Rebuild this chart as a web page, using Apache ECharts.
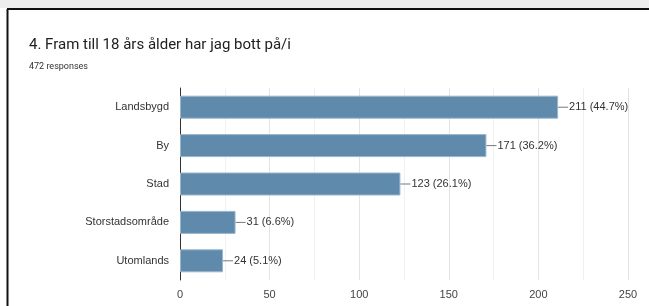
<!DOCTYPE html>
<html>
<head>
<meta charset="utf-8">
<script src="https://cdn.jsdelivr.net/npm/echarts@6/dist/echarts.min.js"></script>
<style>
    html, body { margin: 0; padding: 0; background: #fff; }
    #chart { width: 649px; height: 306px; }
</style>
</head>
<body>
<div id="chart"></div>
<script>
var categories = ['Landsbygd', 'By', 'Stad', 'Storstadsområde', 'Utomlands'];
var counts = [211, 171, 123, 31, 24];
var percents = ['44.7', '36.2', '26.1', '6.6', '5.1'];
var xTicks = [0, 50, 100, 150, 200, 250];

var myChart = echarts.init(document.getElementById('chart'));

var option = {
    backgroundColor: '#fff',
    animation: false,
    title: [{
        text: '4. Fram till 18 års ålder har jag bott på/i',
        left: 24,
        top: 33,
        textStyle: {
            fontFamily: 'Roboto, Arial, sans-serif',
            fontSize: 15,
            fontWeight: 400,
            color: '#202124'
        }
    }, {
        text: '472 responses',
        left: 24,
        top: 57,
        textStyle: {
            fontFamily: 'Roboto, Arial, sans-serif',
            fontSize: 9,
            fontWeight: 400,
            color: '#333'
        }
    }],
    // ramen runt bilden
    graphic: [{
        type: 'rect',
        shape: { x: 0, y: 0, width: 649, height: 8 },
        style: { fill: '#eeeeee' }
    }, {
        type: 'line',
        shape: { x1: 7, y1: 9, x2: 649, y2: 9 },
        style: { stroke: '#111', lineWidth: 2 }
    }, {
        type: 'line',
        shape: { x1: 7.5, y1: 9, x2: 7.5, y2: 306 },
        style: { stroke: '#111', lineWidth: 2 }
    }],
    grid: {
        left: 180,
        right: 21,
        top: 88,
        bottom: 26,
        containLabel: false
    },
    xAxis: {
        type: 'value',
        min: 0,
        max: xTicks[xTicks.length - 1],
        interval: 50,
        axisLine: { show: false },
        axisTick: { show: false },
        axisLabel: {
            color: '#444',
            fontFamily: 'Arial, Liberation Sans, sans-serif',
            fontSize: 11,
            margin: 9
        },
        splitLine: { lineStyle: { color: '#e3e3e3' } },
        minorTick: { show: false, splitNumber: 2 },
        minorSplitLine: { show: true, lineStyle: { color: '#f1f1f1' } }
    },
    yAxis: {
        type: 'category',
        data: categories,
        inverse: true,
        axisLine: { lineStyle: { color: '#333', width: 1 } },
        axisTick: { show: false },
        axisLabel: {
            color: '#333',
            fontFamily: 'Arial, Liberation Sans, sans-serif',
            fontSize: 11,
            margin: 11
        }
    },
    series: [{
        type: 'bar',
        data: counts,
        barWidth: 23,
        itemStyle: {
            color: '#5f8aac',
            borderColor: '#9ab6cc',
            borderWidth: 1
        },
        label: {
            show: true,
            position: 'right',
            distance: 0,
            fontFamily: 'Arial, Liberation Sans, sans-serif',
            fontSize: 11,
            color: '#333',
            formatter: function (p) {
                return '{l|}{t|' + counts[p.dataIndex] + ' (' + percents[p.dataIndex] + '%)}';
            },
            rich: {
                l: { width: 10, height: 1, backgroundColor: '#777' },
                t: { fontSize: 11, color: '#333', padding: [0, 0, 0, 1] }
            }
        }
    }]
};

myChart.setOption(option);
</script>
</body>
</html>
